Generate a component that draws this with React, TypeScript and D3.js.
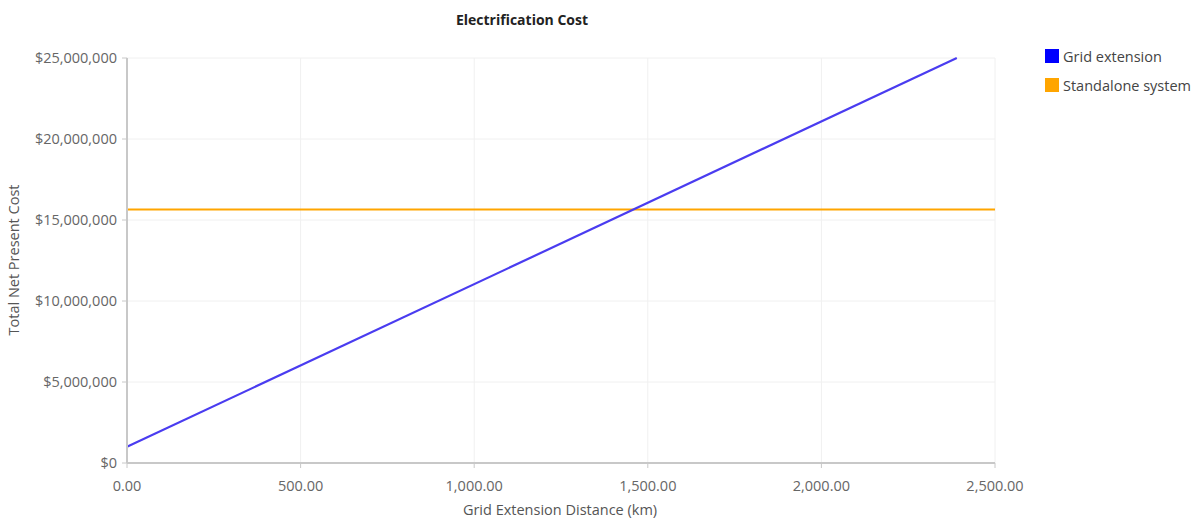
import * as d3 from 'd3'

type Pt = { x: number; y: number }

const gridExtension: Pt[] = [
  { x: 0, y: 1000000 },
  { x: 2390, y: 25000000 },
]
const standalone: Pt[] = [
  { x: 0, y: 15650000 },
  { x: 2500, y: 15650000 },
]
const xTicks = [0, 500, 1000, 1500, 2000, 2500]
const yTicks = [0, 5000000, 10000000, 15000000, 20000000, 25000000]
const seriesNames = ['Grid extension', 'Standalone system']
const seriesColors = ['#0000ff', '#ffa500']

const W = 1195
const H = 524
const M = { top: 58, right: 200, bottom: 61, left: 127 }
const FONT = '"Open Sans", "Noto Sans", sans-serif'

export default function App() {
  const iW = 995 - M.left
  const iH = H - M.bottom - M.top

  const x = d3.scaleLinear().domain([0, 2500]).range([0, iW])
  const y = d3.scaleLinear().domain([0, 25000000]).range([iH, 0])

  const line = d3.line<Pt>().x((d) => x(d.x)).y((d) => y(d.y))
  const fmtX = d3.format(',.2f')
  const fmtY = (v: number) => '$' + d3.format(',')(v)

  return (
    <svg width={W} height={H} style={{ position: 'absolute', left: 0, top: 0, fontFamily: FONT }}>
      <rect width={W} height={H} fill="#fff" />
      <text x={522} y={25} textAnchor="middle" fontSize={14} fontWeight="bold" fill="#222">
        Electrification Cost
      </text>
      <g transform={`translate(${M.left},${M.top})`}>
        {/* gridlines */}
        {yTicks.map((t) => (
          <line key={'gy' + t} x1={0} x2={iW} y1={y(t)} y2={y(t)} stroke="#f0f0f0" />
        ))}
        {xTicks.map((t) => (
          <line key={'gx' + t} x1={x(t)} x2={x(t)} y1={0} y2={iH} stroke="#f0f0f0" />
        ))}

        {/* series */}
        <path d={line(standalone) || ''} fill="none" stroke={seriesColors[1]} strokeWidth={2} />
        <path d={line(gridExtension) || ''} fill="none" stroke="#4a3cf0" strokeWidth={2.2} />

        {/* y axis */}
        <line x1={0} x2={0} y1={0} y2={iH} stroke="#c8c8c8" strokeWidth={2} />
        {yTicks.map((t) => (
          <g key={'ty' + t} transform={`translate(0,${y(t)})`}>
            <line x1={-5} x2={0} stroke="#c8c8c8" />
            <text x={-10} dy="0.35em" textAnchor="end" fontSize={14.5} fill="#666">
              {fmtY(t)}
            </text>
          </g>
        ))}

        {/* x axis */}
        <line x1={0} x2={iW} y1={iH} y2={iH} stroke="#c8c8c8" strokeWidth={2} />
        {xTicks.map((t) => (
          <g key={'tx' + t} transform={`translate(${x(t)},${iH})`}>
            <line y1={0} y2={5} stroke="#c8c8c8" />
            <text y={28} textAnchor="middle" fontSize={14.5} fill="#666">
              {fmtX(t)}
            </text>
          </g>
        ))}
      </g>

      <text x={560} y={515} textAnchor="middle" fontSize={14.5} fill="#555">
        Grid Extension Distance (km)
      </text>
      <text
        transform="rotate(-90)"
        x={-260}
        y={19}
        textAnchor="middle"
        fontSize={14.5}
        fill="#555"
      >
        Total Net Present Cost
      </text>

      {/* legend */}
      {seriesNames.map((n, i) => (
        <g key={n} transform={`translate(1045,${49 + i * 29})`}>
          <rect width={14} height={14} fill={seriesColors[i]} />
          <text x={18} y={12.5} fontSize={14.5} fill="#444">
            {n}
          </text>
        </g>
      ))}
    </svg>
  )
}
